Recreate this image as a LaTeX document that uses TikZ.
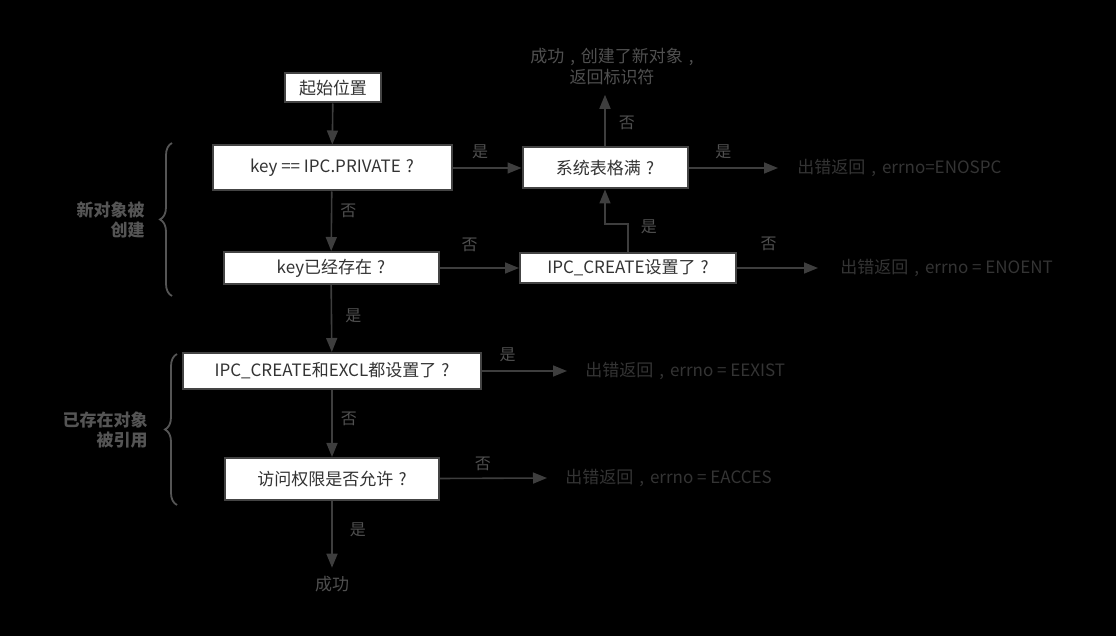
\documentclass[tikz,border=0pt]{standalone}
\usepackage{fontspec}
\setmainfont{Noto Sans CJK SC}
\usetikzlibrary{arrows.meta,decorations.pathreplacing}
\definecolor{boxline}{HTML}{444444}
\definecolor{boxtext}{HTML}{333333}
\definecolor{arrowc}{HTML}{3E3E3E}
\definecolor{lblc}{HTML}{505050}
\definecolor{errc}{HTML}{343434}
\definecolor{bracec}{HTML}{555555}
\newcommand{\cma}{\hspace{0.35em},\hspace{0.35em}}% centred comma
\newcommand{\qm}{\hspace{0.3em}?}

\begin{document}
\begin{tikzpicture}[x=0.5pt, y=-0.5pt,
    font=\fontsize{8.5}{10.5}\selectfont,
    box/.style={draw=boxline, line width=1pt, fill=white, text=boxtext, inner sep=0pt},
    arr/.style={draw=arrowc, line width=0.8pt, -{Triangle[length=7pt,width=5.5pt]}},
    lbl/.style={text=lblc, inner sep=0pt, font=\fontsize{8}{9}\selectfont},
    result/.style={text=errc, inner sep=0pt, anchor=west},
    brc/.style={draw=bracec, line width=0.9pt, decorate, decoration={brace, amplitude=6pt}}
    ]
    % background and page size
    \fill[black] (0,0) rectangle (1116,636);
    \useasboundingbox (0,0) rectangle (1116,636);

    % boxes
    \node[box, minimum width=48pt, minimum height=14.5pt] (start) at (333,88) {起始位置};
    \node[box, minimum width=119.5pt, minimum height=22.5pt] (priv) at (332,168) {key == IPC.PRIVATE\qm};
    \node[box, minimum width=82.5pt, minimum height=20.5pt] (full) at (605,168) {系统表格满\qm};
    \node[box, minimum width=107.5pt, minimum height=16pt] (exist) at (331,268) {key已经存在\qm};
    \node[box, minimum width=108pt, minimum height=15pt] (create) at (628,268) {IPC\_CREATE设置了\qm};
    \node[box, minimum width=149pt, minimum height=18pt] (excl) at (332,371) {IPC\_CREATE和EXCL都设置了\qm};
    \node[box, minimum width=107pt, minimum height=21pt] (perm) at (332,479) {访问权限是否允许\qm};

    % end texts
    \node[text=lblc, align=center, inner sep=0pt] (okNew) at (612,67) {成功\cma 创建了新对象\cma\\返回标识符};
    \node[text=lblc, inner sep=0pt] (ok) at (332,584) {成功};
    \node[result] (errSpc) at (797,168) {出错返回\cma errno=ENOSPC};
    \node[result] (errEnt) at (840,268) {出错返回\cma errno = ENOENT};
    \node[result] (errExist) at (585,371) {出错返回\cma errno = EEXIST};
    \node[result] (errAcc) at (565,478) {出错返回\cma errno = EACCES};
    \coordinate (okTip) at ([yshift=-4.5pt]full.north |- okNew.south);

    % connectors
    \draw[arr] (start) -- (priv);
    \draw[arr] (priv) -- node[lbl, pos=0.4, above=4pt] (l1) {是} (full);
    \draw[arr] (full) -- node[lbl, pos=0.45, right=6.5pt] (l2) {否} (okTip);
    \draw[arr] (full) -- node[lbl, pos=0.39, above=4pt] (l3) {是} ([xshift=-9.5pt]errSpc.west);
    \draw[arr] (priv) -- node[lbl, pos=0.33, right=4pt] (l4) {否} (exist);
    \draw[arr] (exist) -- node[lbl, pos=0.38, above=7.5pt] (l5) {否} (create);
    \draw[arr] (create.north) -- ++(0,-28) node[lbl, pos=0.9, right=6pt] (l6) {是} -| (full.south);
    \draw[arr] (create) -- node[lbl, pos=0.39, above=8pt] (l7) {否} ([xshift=-11pt]errEnt.west);
    \draw[arr] (exist) -- node[lbl, pos=0.46, right=6.5pt] (l8) {是} (excl);
    \draw[arr] (excl) -- node[lbl, pos=0.3, above=4pt] (l9) {是} ([xshift=-9pt]errExist.west);
    \draw[arr] (excl) -- node[lbl, pos=0.43, right=4pt] (l10) {否} (perm);
    \draw[arr] (perm) -- node[lbl, pos=0.4, above=3.5pt] (l11) {否} ([xshift=-9pt]errAcc.west);
    \draw[arr] (perm) -- node[lbl, pos=0.43, right=8.5pt] (l12) {是} ([yshift=4pt]ok.north);

    % braces
    \draw[brc] (172,296) -- (172,143);
    \node[text=bracec, align=right, anchor=east, inner sep=0pt, font=\fontsize{8.5}{10}\selectfont\bfseries] (newObj) at (145,220) {新对象被\\创建};
    \draw[brc] (177,505) -- (177,354);
    \node[text=bracec, align=right, anchor=east, inner sep=0pt, font=\fontsize{8.5}{10}\selectfont\bfseries] (oldObj) at (148,430) {已存在对象\\被引用};
\end{tikzpicture}
\end{document}
